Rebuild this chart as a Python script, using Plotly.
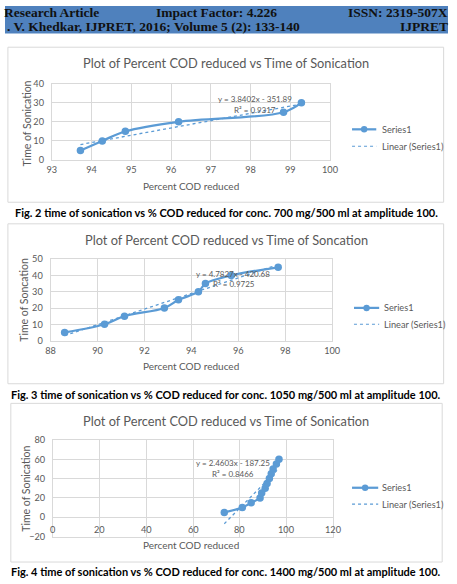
import numpy as np
import plotly.graph_objects as go

W, H = 457, 584

# ---------------- data ----------------
c1_cod = [93.72, 94.27, 94.85, 96.19, 98.83, 99.28]
c1_time = [5, 10, 15, 20, 25, 30]

c2_cod = [88.6, 90.3, 91.15, 92.85, 93.45, 94.3, 94.6, 95.7, 97.7]
c2_time = [5, 10, 15, 20, 25, 30, 35, 40, 45]

c3_cod = [73.3, 81.0, 84.8, 88.6, 89.3, 90.8, 91.6, 92.6, 93.4, 94.2, 95.6, 96.7]
c3_time = [5, 10, 15, 20, 25, 30, 35, 40, 45, 50, 55, 60]

c3_xticks = [0, 20, 40, 60, 80, 100, 120]

titles = ["Plot of Percent COD reduced vs Time of Sonication",
          "Plot of Percent COD reduced vs Time of Soncation",
          "Plot of Percent COD reduced vs Time of Sonication"]
ytitles = ["Time of Sonication", "Time of Soncation", "Time of Sonication"]
eqs = ["y = 3.8402x - 351.89", "y = 4.7827x - 420.68", "y = 2.4603x - 187.25"]
r2s = ["R² = 0.9317", "R² = 0.9725", "R² = 0.8466"]
captions = ["Fig. 2 time of sonication vs % COD reduced for conc. 700 mg/500 ml at amplitude 100.",
            "Fig. 3 time of sonication vs % COD reduced for conc. 1050 mg/500 ml at amplitude 100.",
            "Fig. 4 time of sonication vs % COD reduced for conc. 1400 mg/500 ml at amplitude 100."]
legend_names = ["Series1", "Linear (Series1)"]

# ---------------- style ----------------
BLUE = "#5B9BD5"
GRID = "#D9D9D9"
TXT = "#595959"
FONT = "Lato"


def px(x):
    return x / W


def py(y):
    return 1 - y / H


fig = go.Figure()

datasets = [(c1_cod, c1_time), (c2_cod, c2_time), (c3_cod, c3_time)]
for i, (xv, yv) in enumerate(datasets):
    sfx = "" if i == 0 else str(i + 1)
    fig.add_trace(go.Scatter(
        x=xv, y=yv, mode="lines+markers", name=legend_names[0],
        line=dict(color=BLUE, width=2.25, shape="spline", smoothing=1),
        marker=dict(size=7.5, color=BLUE),
        xaxis="x" + sfx, yaxis="y" + sfx, showlegend=False))
    slope, icpt = np.polyfit(xv, yv, 1)
    xs = np.array([min(xv), max(xv)])
    fig.add_trace(go.Scatter(
        x=xs, y=slope * xs + icpt, mode="lines", name=legend_names[1],
        line=dict(color=BLUE, width=1.3, dash="dot"),
        xaxis="x" + sfx, yaxis="y" + sfx, showlegend=False))

# plot areas (pixels): x0, x1, ytop, ybottom
areas = [(48.3, 335.3, 79, 157), (47, 337.5, 258, 341), (49.5, 338.8, 442.3, 540.7)]
xranges = [[93, 100], [88, 100], [0, 120]]
yranges = [[0, 40], [0, 50], [-20, 80]]
xdt = [1, 2, 20]
ydt = [10, 10, 20]

tickfont = dict(family=FONT, size=9.2, color=TXT)
for i in range(3):
    sfx = "" if i == 0 else str(i + 1)
    x0, x1, yt, yb = areas[i]
    fig.layout["xaxis" + sfx] = dict(
        domain=[px(x0), px(x1)], range=xranges[i], dtick=xdt[i], tick0=0,
        anchor="y" + sfx, showgrid=True, gridcolor=GRID, gridwidth=1,
        showline=True, linecolor=GRID, mirror=True, zeroline=False,
        ticks="", tickfont=tickfont, showticklabels=(i != 2),
        ticklabelstandoff=1, fixedrange=True)
    fig.layout["yaxis" + sfx] = dict(
        domain=[py(yb), py(yt)], range=yranges[i], dtick=ydt[i], tick0=0,
        anchor="x" + sfx, showgrid=True, gridcolor=GRID, gridwidth=1,
        showline=True, linecolor=GRID, mirror=True, zeroline=False,
        ticks="", tickfont=tickfont, ticklabelstandoff=5, fixedrange=True,
        exponentformat="none", separatethousands=False)

annotations = []
shapes = []

# header band
shapes.append(dict(type="rect", xref="paper", yref="paper", x0=0, x1=1,
                   y0=py(28), y1=1, fillcolor="#4F81BD", line=dict(width=0), layer="below"))
hfont = dict(family="Liberation Serif", size=13.5, color="#111111")
for txt, x, y, xa in [("<b>Research Article</b>", -3, 6.5, "left"),
                      ("<b>Impact Factor: 4.226</b>", 218, 6.5, "center"),
                      ("<b>ISSN: 2319-507X</b>", 459, 6.5, "right"),
                      ("<b>. V. Khedkar, IJPRET, 2016; Volume 5 (2): 133-140</b>", 0, 20.5, "left"),
                      ("<b>IJPRET</b>", 459, 20.5, "right")]:
    annotations.append(dict(text=txt, x=px(x), y=py(y), xref="paper", yref="paper",
                            xanchor=xa, yanchor="middle", showarrow=False, font=hfont))

# chart boxes
boxes = [(3, 452.5, 42, 200), (3, 452.5, 222, 385), (6, 451, 405, 566.7)]
for (bx0, bx1, by0, by1) in boxes:
    shapes.append(dict(type="rect", xref="paper", yref="paper", x0=px(bx0), x1=px(bx1),
                       y0=py(by1), y1=py(by0), line=dict(color=GRID, width=1),
                       fillcolor="rgba(0,0,0,0)", layer="below"))

title_y = [58, 238, 422.5]
xt_y = [183, 366.7, 549]
yt_pos = [(23, 119.5), (20, 299), (22, 491.7)]
eq_pos = [((257.5, 95), (258, 106)), ((235.5, 272.7), (236, 283.3)), ((235, 466), (235.5, 476.7))]
cap_y = [210.5, 395.7, 576.7]

for i in range(3):
    annotations.append(dict(text=titles[i], x=px(228), y=py(title_y[i]), xref="paper", yref="paper",
                            xanchor="center", yanchor="middle", showarrow=False,
                            font=dict(family=FONT, size=12.8, color=TXT)))
    annotations.append(dict(text="Percent COD reduced", x=px(192), y=py(xt_y[i]), xref="paper",
                            yref="paper", xanchor="center", yanchor="middle", showarrow=False,
                            font=dict(family=FONT, size=10, color=TXT)))
    annotations.append(dict(text=ytitles[i], x=px(yt_pos[i][0]), y=py(yt_pos[i][1]), xref="paper",
                            yref="paper", xanchor="center", yanchor="middle", showarrow=False,
                            textangle=-90, font=dict(family=FONT, size=10.5, color=TXT)))
    (ex, ey), (rx, ry) = eq_pos[i]
    annotations.append(dict(text=eqs[i], x=px(ex), y=py(ey), xref="paper", yref="paper",
                            xanchor="center", yanchor="middle", showarrow=False,
                            font=dict(family=FONT, size=8, color=TXT)))
    annotations.append(dict(text=r2s[i], x=px(rx), y=py(ry), xref="paper", yref="paper",
                            xanchor="center", yanchor="middle", showarrow=False,
                            font=dict(family=FONT, size=8, color=TXT)))
    annotations.append(dict(text="<b>" + captions[i] + "</b>", x=px(228), y=py(cap_y[i]),
                            xref="paper", yref="paper", xanchor="center", yanchor="middle",
                            showarrow=False, font=dict(family=FONT, size=11, color="#000000")))

# chart 3 x tick labels sit under the y=0 line
for v in c3_xticks:
    annotations.append(dict(text=str(v), x=v, y=0, xref="x3", yref="y3", xanchor="center",
                            yanchor="top", yshift=-5, showarrow=False, font=tickfont))

# legends (key drawn beside each chart)
leg = [(358, 383, 387, 125.7, 143), (360, 386, 389, 307.7, 324.3), (358, 385, 387, 491, 507.7)]
for (lx0, lx1, tx, y1, y2) in leg:
    shapes.append(dict(type="line", xref="paper", yref="paper", x0=px(lx0), x1=px(lx1),
                       y0=py(y1), y1=py(y1), line=dict(color=BLUE, width=2.25)))
    cx = (lx0 + lx1) / 2
    shapes.append(dict(type="circle", xref="paper", yref="paper", x0=px(cx - 3.3), x1=px(cx + 3.3),
                       y0=py(y1 + 3.3), y1=py(y1 - 3.3), fillcolor=BLUE, line=dict(width=0)))
    shapes.append(dict(type="line", xref="paper", yref="paper", x0=px(lx0), x1=px(lx1),
                       y0=py(y2), y1=py(y2), line=dict(color=BLUE, width=1.1, dash="dot")))
    for name, yy in zip(legend_names, [y1, y2]):
        annotations.append(dict(text=name, x=px(tx), y=py(yy), xref="paper", yref="paper",
                                xanchor="left", yanchor="middle", showarrow=False,
                                font=dict(family=FONT, size=9.2, color=TXT)))

fig.update_layout(
    width=W, height=H, margin=dict(l=0, r=0, t=0, b=0),
    paper_bgcolor="white", plot_bgcolor="white", showlegend=False,
    annotations=annotations, shapes=shapes)

fig.write_html("out.html")
